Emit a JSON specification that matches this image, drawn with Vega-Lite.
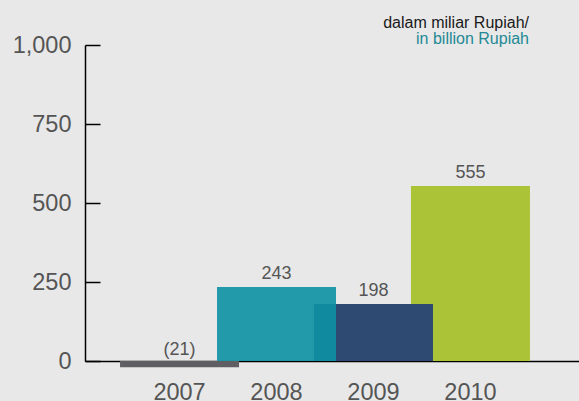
{
  "$schema": "https://vega.github.io/schema/vega-lite/v6.json",
  "autosize": "none",
  "width": 494,
  "height": 316,
  "padding": {"left": 85, "top": 45, "right": 0, "bottom": 40},
  "background": "#e8e8e8",
  "config": {
    "view": {"stroke": null},
    "font": "Liberation Sans"
  },
  "title": {
    "text": "dalam miliar Rupiah/",
    "subtitle": "in billion Rupiah",
    "anchor": "end",
    "frame": "group",
    "dx": -50,
    "offset": -14,
    "font": "Liberation Sans",
    "fontSize": 16,
    "fontWeight": "normal",
    "color": "#1a1a1a",
    "subtitleFont": "Liberation Sans",
    "subtitleFontSize": 16,
    "subtitleColor": "#1f8a94",
    "subtitlePadding": 0
  },
  "data": {
    "values": [
      {"year": "2007", "value": -20, "label": "(21)"},
      {"year": "2010", "value": 554, "label": "555"},
      {"year": "2009", "value": 180, "label": "198"},
      {"year": "2008", "value": 234, "label": "243"}
    ]
  },
  "encoding": {
    "x": {
      "field": "year",
      "type": "ordinal",
      "sort": ["2007", "2008", "2009", "2010"],
      "scale": {"paddingInner": 0, "paddingOuter": 0.547, "align": 0.434},
      "axis": {
        "title": null,
        "ticks": false,
        "domainColor": "#000000",
        "domainWidth": 1.5,
        "labelAngle": 0,
        "labelFontSize": 23.5,
        "labelColor": "#555555",
        "labelPadding": 19
      }
    }
  },
  "layer": [
    {
      "mark": {"type": "bar", "width": {"band": 1.227}, "clip": false},
      "encoding": {
        "y": {
          "field": "value",
          "type": "quantitative",
          "scale": {"domain": [0, 1000], "nice": false, "zero": true},
          "axis": {
            "title": null,
            "values": [0, 250, 500, 750, 1000],
            "format": ",.0f",
            "grid": false,
            "domainColor": "#000000",
            "domainWidth": 1.5,
            "tickColor": "#000000",
            "tickWidth": 1.5,
            "tickSize": -15,
            "labelFontSize": 23.5,
            "labelColor": "#555555",
            "labelPadding": 29
          }
        },
        "y2": {"datum": 0},
        "color": {
          "field": "year",
          "type": "nominal",
          "scale": {
            "domain": ["2007", "2008", "2009", "2010"],
            "range": ["#5f5f63", "#0c91a3", "#2e4a72", "#aac337"]
          },
          "legend": null
        },
        "opacity": {
          "condition": {"test": "datum.year == '2008'", "value": 0.9},
          "value": 1
        }
      }
    },
    {
      "transform": [{"filter": "datum.value >= 0"}],
      "mark": {"type": "text", "baseline": "alphabetic", "dy": -8, "fontSize": 18, "color": "#555555"},
      "encoding": {
        "y": {"field": "value", "type": "quantitative"},
        "text": {"field": "label"}
      }
    },
    {
      "transform": [{"filter": "datum.value < 0"}],
      "mark": {"type": "text", "baseline": "alphabetic", "dy": -6, "fontSize": 18, "color": "#555555"},
      "encoding": {
        "y": {"datum": 0},
        "text": {"field": "label"}
      }
    }
  ]
}
